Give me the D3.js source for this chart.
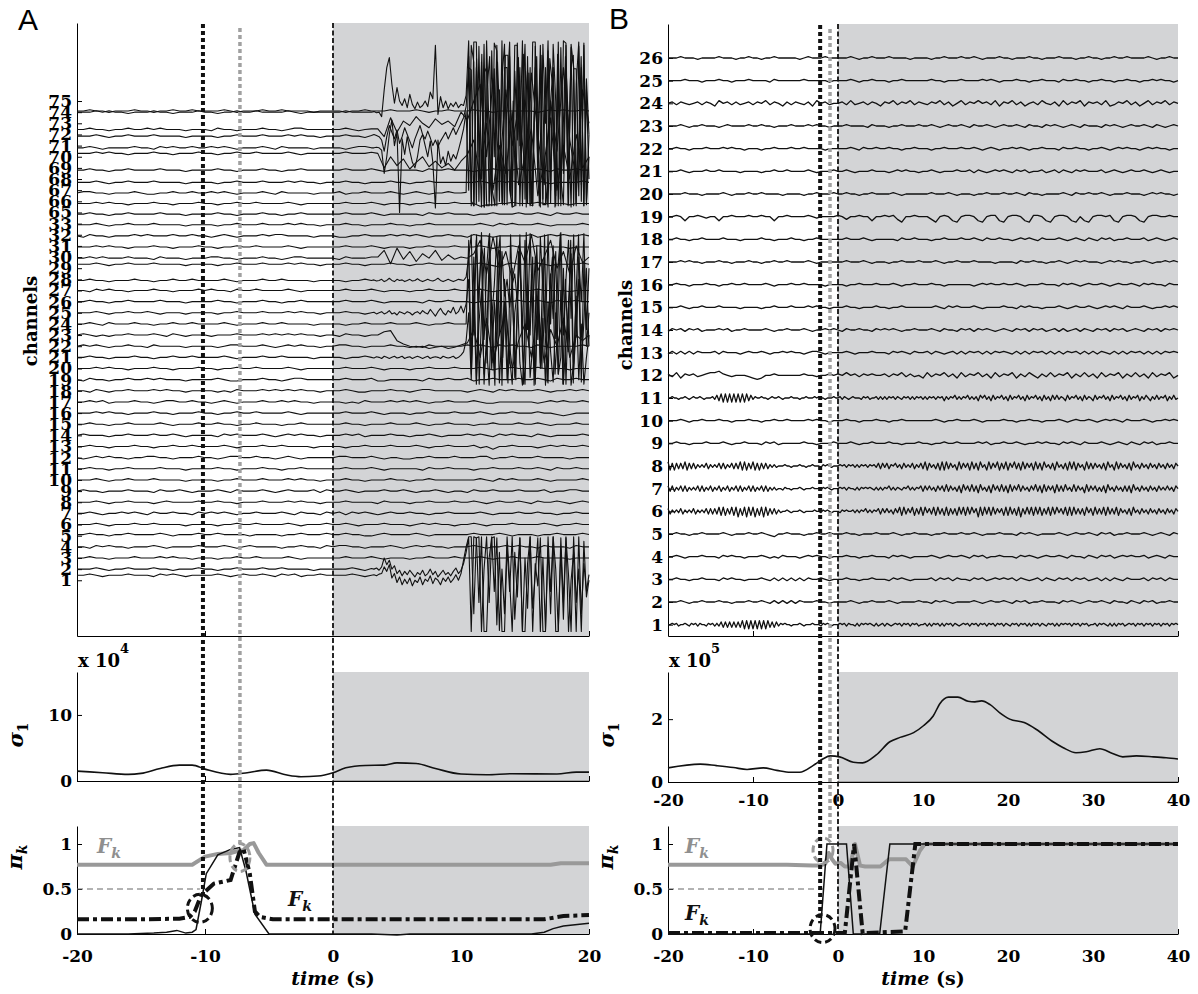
<!DOCTYPE html>
<html>
<head>
<meta charset="utf-8">
<script src="https://cdn.jsdelivr.net/npm/d3@7"></script>
<style>
  body { margin: 0; background: #fff; }
  svg { display: block; }
</style>
</head>
<body>
<svg id="fig" width="1198" height="994"></svg>
<script>
// ---------------- Panel A : intracranial channels (t = -20 .. 20 s) ----------------
const labelsA = [1,2,3,4,5,6,7,8,9,10,11,12,13,14,15,16,17,18,19,20,21,22,23,24,25,26,27,28,29,30,31,32,33,
                 65,66,67,68,69,70,71,72,73,74,75];
// mean level of each trace relative to its tick (channel units)
const offsetA = [0.45,0,0,0,0.1,0,0,0,0,0, 0,0,0,0,0,0,0,0,0,0, 0,0,0,0,0,0,0,-0.1,0.35,-0.1,
                 -0.1,-0.1,-0.1, -0.15,-0.2,-0.25,-0.3,-0.2,0.3,-0.2,-0.15,-0.55,0,-0.9];
// background activity, one digit per 0.5 s, 5 = trace level
const waveA = [
 "5565455565 5546565455 5565456556 5465645565 5556545565 5565545556 5545565556 5565455565 5",
 "5556545565 5565545556 5545565556 5565555455 5556546556 5565545565 5545565556 5565456545 5",
 "5565545556 5556565545 5545565565 5556545555 5565556545 5545565556 5556545565 5565555455 5",
 "5546565545 5565455556 5556545655 5545565546 5665545556 5456565545 5565455656 5546555465 5",
 "5565545565 5556545556 5565555455 5545565556 5565544565 5556545555 5565556545 5545565556 5",
 "5556545556 5565555455 5545565565 5556545556 5565455565 5545656554 5565455565 5556545565 5",
 "5565455656 5465565546 5656545565 5565465546 5646565456 5565545565 5556545556 5565545565 5",
 "5556545565 5545655556 5565545556 5556565545 5565555465 5545565556 5565456556 5465565456 5",
 "5655455565 5546556545 5565465556 5456555646 5565455565 5654556545 5465565556 5556455665 5",
 "5556545565 5565555455 5545565556 5556565545 5565545556 5545565555 5556546565 5565455556 5",
 "5565545565 5556555455 5565545556 5545565555 5565556545 5555465565 5545565556 5565465565 5",
 "5456565545 5665545556 5545665565 5456545555 5665556545 5445565556 5556645565 5565555455 5",
 "5565545556 5545565565 5556545556 5565555455 5545565556 5556545565 5564535565 5545656556 5",
 "5655545565 5565565455 5546565556 5456565545 5565645556 5545565455 5656546565 5465455556 5",
 "5565545565 5556545556 5565545565 5545565555 5565545556 5556545565 5545565556 5565455565 5",
 "5556565545 5565545556 5545565565 5556545555 5565556545 5545565556 5556545565 5565543455 5",
 "5565645556 5545665565 5456545556 5565655455 5545465556 5656545565 5565445555 5545656556 5",
 "5546545565 5565655455 5545465556 5656565545 5565445556 5545665555 5456546565 5565455656 5",
 "5465545565 5656555455 5565445556 5545665555 5565556445 5555465565 5645565556 5565465565 5",
 "5556565545 5565545556 5545565565 5556545555 5565556545 5545565556 5556545565 5565555455 5",
 "5565545556 5545565565 5556545556 5565555455 5545565556 5556545565 5565545555 5545656556 5",
 "5656545565 5465555455 5545665556 5456565545 5665545556 5545465555 5656546565 5465455556 5",
 "5654545565 5565465455 5455565556 5656565545 5465545556 5645565555 5556546565 5565455556 5",
 "5565465556 5545565565 5556545556 5565555455 5545565556 5556545565 5565545555 5545656556 5",
 "5556545565 5654555455 5545565556 5556565545 5565545556 5545565555 5556546565 5565455556 5",
 "5565545565 5556555455 5565545556 5545565555 5565556545 5555465565 5545565556 5565465565 5",
 "5546565545 5565545556 5655465565 5556545555 5565556545 5545565556 5556545565 5565555455 5",
 "5565545556 5545565565 5556545556 5565555455 5545565556 5556545565 5565545555 5545656556 5",
 "5556545565 5565555455 5545565556 5556565545 5565545556 5545565555 5556543565 5565455556 5",
 "5565655565 5546555455 5665545556 5545665555 5465556545 5555465565 5545565556 5565465565 5",
 "5556565545 5565545556 5545565565 5556545555 5565556545 5545565556 5556545565 5565555455 5",
 "5465545556 5655565565 5456545556 5665555455 5445565556 5656545565 5465545555 5645656556 5",
 "5556545565 5565555455 5545565556 5556565545 5565545556 5545565555 5556546565 5565455556 5",
 "5565545565 5556555455 5565545556 5545565555 5565556545 5555465565 5545565556 5565465565 5",
 "5556565545 5565545556 5545565565 5556545555 5565556545 5545565556 5553445565 5565555455 5",
 "5665545556 5445565565 5656545556 5465555455 5645565556 5456545565 5665545555 5545656556 5",
 "5556545565 5565555455 5545565556 5556565545 5565545556 5545565555 5556546565 5565455556 5",
 "5565545565 5556555455 5565545556 5545565555 5565556545 5555465565 5545565556 5565465565 5",
 "5556565545 5565545556 5545565565 5556545555 5565556545 5545565556 5556545565 5565555455 5",
 "5565455556 5546565565 5656545556 5465555455 5545665556 5556545565 5565445555 5545656556 5",
 "5556545565 5565555455 5545565556 5556565545 5565545556 5545565555 5556546565 5565455556 5",
 "5565545565 5656555455 5465545556 5545665555 5565456545 5655465565 5545565556 5565465565 5",
 "5556565545 5565545556 5545565565 5556545555 5565556545 5545565556 5556545565 5565555455 5",
 "5565545556 5545565565 5556545556 5565555455 5545565556 5556545565 5565545555 5545656556 5"
];

// seizure activity, t = 3 .. 20 s every 0.2 s, in channel units
const burst74 = [42,42.05,41.95,42,41.6,44.0,46.0,46.9,44.5,42.8,44.2,43.0,42.6,43.2,42.4,43.6,42.7,42.3,42.9,42.4,
  42.6,43.0,42.5,43.8,43.2,48.0,41.8,43.4,42.4,43.0,42.3,42.8,42.5,42.9,42.4,42.7,42.6,43.5,48.4,
  33.6,48.3,48.3,34.0,46.5,33.5,48.4,40.0,33.6,48.2,47.5,35.0,48.4,33.7,44.0,48.3,33.5,33.6,48.2,39.0,
  48.4,34.2,47.0,33.6,48.3,48.3,36.0,33.5,48.1,41.0,48.4,33.8,46.0,34.5,48.3,33.6,48.4,48.2,35.5,47.8,
  33.6,44.5,48.3,34.0,48.2,33.7,40.0];
const burst71 = [38.8,38.8,38.85,38.8,38.6,36.5,38.0,40.0,41.3,39.0,40.2,33.0,39.6,38.2,39.8,38.5,37.5,37.0,38.0,39.5,
  40.0,39.0,38.0,39.4,37.5,33.4,39.5,37.4,38.0,37.2,38.5,37.6,38.2,37.8,38.6,39.5,40.5,42.0,35.0,
  48.0,46.5,33.8,47.9,36.0,48.1,33.6,33.6,47.5,38.0,48.0,34.0,45.0,48.1,33.7,47.0,34.5,48.0,48.0,33.6,
  42.0,48.1,33.8,46.0,33.6,47.9,38.5,48.0,33.7,33.7,47.5,35.0,48.1,43.0,33.6,47.8,36.5,48.0,33.8,48.1,
  46.0,33.6,47.9,35.5,48.0,34.0,38.0];
const burst72 = [39.9,40.0,39.9,39.8,39.5,38.5,39.8,40.8,40.2,39.6,40.4,39.2,39.8,40.6,40.0,39.4,38.8,39.6,40.2,40.8,
  40.0,39.6,40.3,39.7,39.0,39.5,38.9,39.4,39.8,40.2,39.6,40.1,40.6,40.0,40.5,41.0,41.5,42.5,46.0,
  45.8,33.6,46.0,40.0,33.5,45.5,46.0,34.0,37.0,45.9,33.6,44.0,33.8,46.0,46.0,35.0,33.5,45.7,39.5,46.0,
  33.6,42.0,45.8,33.7,33.6,46.0,37.5,45.9,34.2,46.0,33.5,43.0,46.0,33.6,45.6,36.0,33.7,46.0,41.0,33.5,
  45.9,45.9,34.5,46.0,33.6,44.0,36.0];
const burst28 = [26.9,26.95,26.85,26.9,27.0,26.8,26.9,27.1,26.9,26.8,27.0,26.9,26.95,26.8,26.9,27.0,26.85,26.9,27.05,26.9,
  26.8,26.9,27.0,26.9,26.85,26.95,27.1,26.9,26.8,26.9,27.0,26.9,26.8,26.9,27.0,26.95,26.9,27.2,29.0,
  31.0,22.0,30.5,25.0,31.2,21.6,28.0,31.0,23.5,26.5,30.8,22.0,29.5,25.5,27.0,24.5,26.5,27.5,25.0,31.0,
  21.8,30.5,22.5,31.1,24.0,29.0,21.6,30.8,26.0,22.2,31.0,23.0,30.0,21.7,28.5,31.2,22.0,27.0,30.5,23.5,
  31.0,21.8,29.0,25.0,31.1,22.5,28.0];
const burst25 = [24.0,24.05,23.9,24.0,24.1,23.9,24.0,24.2,23.9,24.0,23.8,24.1,24.0,23.9,24.1,24.0,23.8,24.0,24.1,23.9,
  24.2,24.0,23.9,24.3,24.0,23.7,24.1,24.4,24.0,23.8,24.2,24.0,24.5,23.9,24.1,24.6,24.0,24.8,27.0,
  20.0,29.0,18.0,26.0,29.5,17.6,22.0,28.5,19.0,25.0,21.0,29.6,17.5,27.0,23.0,19.5,28.0,18.2,24.5,29.4,
  20.5,17.6,26.5,22.0,29.0,18.0,25.5,19.5,28.8,21.5,17.7,27.5,23.5,29.5,18.5,20.0,28.0,17.6,25.0,29.3,
  19.0,22.5,27.0,17.8,28.5,21.0,24.0];
const burst21 = [20.0,19.95,20.05,20.0,19.9,20.1,20.0,19.9,20.0,20.1,19.95,20.0,20.1,19.9,20.0,20.05,19.9,20.0,20.1,20.0,
  19.9,20.0,20.1,19.9,20.0,20.05,20.0,19.9,20.1,20.0,19.95,20.0,20.1,19.9,20.0,20.2,20.5,21.5,24.0,
  18.0,25.5,17.6,23.0,26.0,18.5,21.0,17.5,24.5,19.0,26.0,17.7,22.5,25.0,18.0,20.0,17.6,24.0,26.0,19.5,
  17.5,22.0,25.5,18.2,21.0,17.6,26.0,19.0,23.5,17.5,25.0,20.5,17.8,24.0,18.5,26.0,17.6,21.5,24.5,17.5,
  19.5,25.5,18.0,23.0,17.6,20.0,22.0];
const burst2 = [1.05,1.0,1.1,0.9,1.2,2.0,1.4,1.8,1.0,1.3,0.6,0.9,0.4,0.8,0.5,0.9,0.6,0.3,0.7,0.5,
  0.9,0.4,0.6,1.0,0.5,0.8,0.3,0.6,0.9,0.5,0.7,0.4,0.8,1.1,0.6,0.9,1.5,2.5,3.8,
  -4.6,3.9,3.8,-2.0,3.9,-4.6,-4.6,2.0,3.9,-1.0,3.8,-4.5,1.0,-3.0,3.9,0.0,-4.6,2.5,-1.5,3.8,
  -4.6,-4.6,1.5,3.9,-2.5,0.5,3.8,-4.6,2.0,-4.5,3.9,-1.0,3.9,-4.6,-4.6,2.8,-3.5,3.8,0.5,-4.6,
  3.9,-2.0,1.0,-4.6,3.5,-1.5,0.0];
const burst1 = [0.45,0.5,0.4,0.55,0.6,1.2,0.8,1.4,0.2,0.6,-0.2,0.3,-0.4,0.1,-0.3,0.2,-0.5,0.0,-0.2,0.3,
  -0.4,0.1,-0.1,0.4,-0.3,0.2,0.0,-0.4,0.2,-0.1,0.3,-0.2,0.1,0.5,0.0,0.6,1.8,3.0,3.9,
  3.9,-3.0,3.8,3.9,-4.6,1.0,3.9,-2.0,3.8,3.9,-4.0,2.5,-4.6,-4.6,3.0,-1.0,3.9,-3.5,0.5,3.8,
  -4.6,2.0,-2.5,3.9,-4.6,1.5,-0.5,3.8,-4.6,-4.6,3.0,-3.0,3.9,1.0,-4.5,3.8,-2.0,3.9,-4.6,0.0,
  2.5,-4.6,3.9,-3.0,1.5,-1.0,0.5];
// late-joining channels, t = 10.4 .. 20 s
const burst67 = [34.8,47.0,34.0,33.6,46.8,38.0,47.2,33.5,44.0,47.0,35.0,33.6,46.5,40.5,33.7,47.1,47.1,34.5,43.0,33.6,
  46.9,37.0,47.2,33.5,45.5,33.8,41.0,47.0,33.6,47.1,36.5,33.7,46.8,44.5,33.5,47.2,34.2,39.5,47.0,33.6,
  46.0,47.1,33.8,38.5,47.0,33.6,45.0,40.0];
const burst24 = [23.0,30.5,18.5,26.0,31.0,17.6,24.5,29.8,19.5,31.1,22.0,17.5,28.5,30.9,20.0,25.0,17.7,31.0,23.5,18.0,
  29.5,26.5,17.6,31.2,21.0,27.5,17.5,30.0,24.0,19.0,31.0,17.8,26.0,29.0,18.5,22.5,31.1,17.6,27.0,20.5,
  30.5,17.7,25.5,31.0,19.0,23.0,28.0,21.0];
// slower post-onset changes, t = 3 .. 20 s every 0.5 s
const shift73 = [40.5,40.5,39.8,41.5,40.2,41.2,40.8,41.6,41.0,40.6,41.4,40.9,41.2,40.7,42.0,41.3,43.0,44.5,38.0,45.0,
  36.5,44.0,39.0,42.5,37.0,45.5,40.0,35.5,43.0,38.5,46.0,39.5,36.0,44.0,41.0];
const shift70 = [38.4,38.3,37.0,38.0,37.2,37.8,36.9,37.5,38.0,37.1,37.6,37.0,37.4,36.8,37.6,38.2,39.5,36.0,41.0,35.0,
  39.0,36.5,42.0,35.5,38.0,40.5,34.5,37.5,41.5,35.0,39.0,36.0,40.0,37.0,38.0];
const shift30 = [29.0,29.0,29.6,28.4,29.8,28.8,29.5,28.6,29.3,28.9,29.6,28.7,29.2,28.8,29.0,28.9,29.3,30.5,27.5,30.8,
  28.0,29.5,27.0,30.0,28.5,31.0,27.8,29.0,30.5,28.0,29.5,27.5,30.0,28.5,29.0];
const shift23 = [22.0,22.0,22.3,22.4,21.5,21.2,21.0,20.9,21.0,20.8,20.9,21.0,20.8,20.9,21.1,21.3,22.5,20.0,23.5,19.5,
  22.0,24.0,19.0,21.5,23.0,20.0,24.5,19.5,22.5,21.0,23.5,20.0,22.0,21.5,22.0];

const burstsA = [
  {ch: 74, t0: 3, t1: 20, v: burst74}, {ch: 71, t0: 3, t1: 20, v: burst71},
  {ch: 72, t0: 3, t1: 20, v: burst72}, {ch: 73, t0: 3, t1: 20, v: shift73},
  {ch: 70, t0: 3, t1: 20, v: shift70}, {ch: 67, t0: 10.4, t1: 20, v: burst67},
  {ch: 30, t0: 3, t1: 20, v: shift30}, {ch: 28, t0: 3, t1: 20, v: burst28},
  {ch: 25, t0: 3, t1: 20, v: burst25}, {ch: 24, t0: 10.4, t1: 20, v: burst24},
  {ch: 23, t0: 3, t1: 20, v: shift23}, {ch: 21, t0: 3, t1: 20, v: burst21},
  {ch: 2, t0: 3, t1: 20, v: burst2},   {ch: 1, t0: 3, t1: 20, v: burst1}
];

// first singular value (x 10^4)
const tSigA = [-20,-18,-16,-15,-13.5,-12,-11,-10,-8,-6.7,-5.2,-3.6,-2.5,-1.2,0,1,2.5,4,5,6.5,8,10,12,14,17.5,19,20];
const sigA  = [1.5,1.25,1.0,1.15,1.9,2.4,2.4,1.8,1.0,1.25,1.65,0.9,0.65,0.75,1.25,2.0,2.35,2.4,2.75,2.65,1.9,1.05,0.95,1.1,1.05,1.35,1.35];

// state probabilities
const tGrayA = [-20,-11,-10,-9,-8,-7.5,-7,-6.5,-6.2,-5.8,-5.2,17,17.8,20];
const grayA  = [0.77,0.77,0.86,0.89,0.9,0.92,0.93,1.0,1.01,0.9,0.77,0.77,0.785,0.785];
const tSolidA = [-20,-16,-14,-13,-12.2,-11.5,-11,-10.7,-10.3,-9.9,-9,-8,-7.3,-6.8,-6.1,-5.0,3,5,6,15.5,16.5,17.2,18,20];
const solidA  = [0,0,0.01,0.02,0.04,0.01,0.02,0.05,0.35,0.67,0.88,0.94,0.96,0.7,0.22,0,0,-0.01,0,0,0.02,0.06,0.09,0.12];
const tDashA = [-20,-15,-12,-11.2,-10.8,-10.3,-9.3,-8,-7.3,-7.0,-6.5,-6.1,-5.7,-4.7,16.5,18,20];
const dashA  = [0.163,0.163,0.17,0.19,0.25,0.43,0.56,0.6,0.91,0.95,0.67,0.25,0.19,0.163,0.163,0.2,0.21];

// ---------------- Panel B : scalp channels (t = -20 .. 40 s) ----------------
const labelsB = d3.range(1, 27);
const waveB = [
 // 1
 "5565645565 4656465546 5646473737 3737382828 2828282837 3746565545 5565455565 5546565455 5656465546 4656565464 5646545656 4656465645 5646465646 4656465456 5646564656 4656465646 5465646564 6465646546 5646465656 4656465645 5646565464 6465645656 4656465646 5646564656 5",
 // 2
 "5556545565 5565545556 5565464646 4655565545 5556545565 5565455556 5546565455 5565456556 5465645565 5546565456 5565465546 5465645565 5",
 // 3
 "5565545565 5546565545 5565464646 4646556545 5565545565 5546565455 5564656465 5465645656 5646545646 5465646564 5646465465 5564656465 5",
 // 4
 "5565455565 5546565545 5565454655 5456565545 5565545565 5546565455 5565456556 5465645565 5546565456 5565465546 5465645656 5564565465 5",
 // 5
 "5565545565 5556545556 5565435565 5545565565 5565545556 5556545565 5545565556 5565455565 5546565455 5565456556 5465645565 5565456546 5",
 // 6
 "7364647364 6473646473 7373828273 8281728182 8172818273 7364556545 5565455556 5546565455 5465655646 4657464657 3747463748 2837482738 2847382837 2827372838 2838471828 3828374728 2837281738 3828382738 2838473828 2837372847 2837382837 3827463728 4637463746 3746374637 5",
 // 7
 "7373647373 6464737364 7364736473 6473736473 7364737364 6455465545 5565455565 5546565455 5656465546 4656565464 6465746465 4657464657 3747463747 3837463728 4738372846 3728473837 2837483746 3748372837 4728373846 3837462837 4736372846 3746373728 4637463746 3746474637 5",
 // 8
 "8272737382 7373646473 6464737364 7373828273 8272737364 6455565545 5565545565 5546565455 5656465646 4656465647 3747365746 3746473647 3827463728 2837462837 4728372846 2837482738 2748372837 4728372846 3728463728 3827462837 3746372846 2837463728 4637463746 3746374637 5",
 // 9
 "5565545556 5556545565 5546564555 5565545556 5556545565 5565545556 5545565565 5556564556 5565455656 5546565465 5565456546 5465645565 5",
 // 10
 "5556545565 5565545556 5545565565 5556565545 5565545556 5545565555 5556545565 5565455556 5545565545 5565456556 5456565465 5565455656 5",
 // 11
 "5565545565 4565565455 5647382828 2828282837 4655655456 5565455565 5545565556 5655455565 5646545655 5465645564 6464656465 4656464656 4646564656 3646574646 5746463757 4637465746 3746574637 4657463746 3747465374 6574637465 3746574637 4657463746 5736475364 7465736474 5",
 // 12
 "6473656456 7786545554 3235565555 5565545565 6575646565 5646574645 3746574637 4657463746 5736475364 7465736474 6374657364 7463746573 5",
 // 13
 "4646464655 5646555456 5565455656 5545665455 5565455565 5546565465 5646545646 4656464656 5464646564 6464656464 6465464646 5646464656 5",
 // 14
 "4656465645 5565645565 5556545565 5565455656 5465565546 5656545565 5565465546 5646565456 5465646564 5646456465 4656465645 6546564656 5",
 // 15
 "5556545565 5565555455 5545565556 5556565545 5565545556 5545565555 5556546565 5565455556 5546565545 5565456556 5456565465 5565455656 5",
 // 16
 "5565545556 5545565565 5556545556 5565555455 5545565556 5556545565 5565545555 5545656556 5565455565 5546565456 5565456556 5465655465 5",
 // 17
 "5556565545 5565545556 5545565565 5556545555 5565556545 5545565556 5556545565 5565555455 5546556554 5565456565 5545656554 5565455656 5",
 // 18
 "5565545565 5556555455 5565545556 5545565555 5565556545 5555465565 5545565556 5565465565 5456565465 5565456546 5465645565 5564565456 5",
 // 19
 "5565255654 5525565556 5565525565 5556545555 6535565525 5656315565 5531565215 6652156621 5665216652 1566521521 5665621566 5215665565 5",
 // 20
 "5555655545 5556545556 5565555455 5545565556 5565545565 5556545555 5565556545 5545565556 5565465545 5556546556 5565455565 5545656554 5",
 // 21
 "5556545556 5565555455 5545565565 5556545556 5565455565 5545656554 5565455565 5646545656 5465645564 5646546565 5564565456 5565456545 5",
 // 22
 "5565545556 5556565545 5545565556 5565555455 5556546556 5565545565 5545565556 5565456545 5656545565 5546556554 5565456565 5456565545 5",
 // 23
 "5556545565 5545655556 5565545556 5556565545 5565555465 5545565556 5565456556 5465565456 5565465546 5654565465 5546565456 5565465456 5",
 // 24
 "5646545646 5375646456 4657465364 6546375645 5647456465 3657465746 5465746357 4657564736 5746356475 4637465736 5647346574 6357465746 5",
 // 25
 "5555655545 5565545556 5555465555 5565555545 5556545565 5545565555 5565545556 5555656545 5565545565 5546556554 5565545565 5455656554 5",
 // 26
 "5556555455 5565554556 5545565555 5456555655 5556545565 5565555455 5545565556 5565455565 5455565545 5565554556 5545565565 5556545565 5"
];

// first singular value (x 10^5)
const tSigB = [-20,-16.2,-14.3,-12.3,-10.7,-8.8,-7.2,-5.6,-4.5,-2.9,-1.8,-0.9,0.2,1.8,2.9,4.5,6.1,7.3,8.9,10.05,11.2,12,13,14.1,15.3,16.1,16.9,17.9,19,20.2,21.9,23.3,25.3,26.5,28,29.2,30.8,32.3,33.5,35.1,37.1,38.6,40];
const sigB  = [0.45,0.57,0.52,0.46,0.4,0.45,0.37,0.31,0.31,0.53,0.73,0.83,0.8,0.63,0.61,0.86,1.28,1.42,1.57,1.79,2.1,2.5,2.7,2.7,2.57,2.55,2.58,2.46,2.21,2.0,1.89,1.68,1.28,1.09,0.93,0.96,1.06,0.91,0.8,0.83,0.8,0.77,0.73];

const tGrayB = [-20,-6,-3,-2.2,-1.5,-1.1,-0.7,-0.3,0.3,0.8,1.4,2.0,2.6,3.2,5.0,6.0,8.0,8.8,9.6,10.2,40];
const grayB  = [0.77,0.77,0.76,0.76,0.78,0.9,0.83,0.78,0.79,0.75,0.75,1.0,0.76,0.75,0.75,0.83,0.83,0.75,0.92,1.0,1.0];
const tSolidB = [-20,-2.1,-1.3,1.0,1.8,2.2,4.9,6.1,40];
const solidB  = [0,0,1,1,0,0,0,1,1];
const tDashB = [-20,-1.5,0.8,1.9,2.9,7.9,9.1,40];
const dashB  = [0.01,0.01,0.01,1.0,0.01,0.03,1.0,1.0];

// onset markers and highlighted crossings
const markA = {first: -10.16, second: -7.27, onset: 0};
const markB = {first: -2.1, second: -0.94, onset: 0};
const ringA = [{t: -10.4, p: 0.285, c: "#111", rx: 12.5, ry: 14}, {t: -7.27, p: 0.85, c: "#999", rx: 10, ry: 14}];
const ringB = [{t: -1.82, p: 0.06, c: "#111", rx: 12.5, ry: 14}, {t: -1.76, p: 0.93, c: "#999", rx: 10, ry: 12.5}];

const ticksA = [-20, -10, 0, 10, 20];
const ticksB = [-20, -10, 0, 10, 20, 30, 40];

// ---------------- drawing ----------------
const svg = d3.select("#fig");
const SERIF = "'DejaVu Serif', 'Liberation Serif', serif";
const SHADE = "#d3d4d6";

const digits = s => s.replace(/\s+/g, "").split("").map(Number);
const spread = (vals, t0, t1) => vals.map((v, i) => [t0 + (t1 - t0) * i / (vals.length - 1), v]);

function styleAxis(g) {
  g.attr("font-family", SERIF).attr("font-size", 17).attr("font-weight", "bold");
  g.selectAll("line").attr("stroke", "#000");
  g.select(".domain").attr("stroke", "#000");
  g.selectAll("text").attr("fill", "#000");
}
function yAxis(parent, scale, x, values, fmt) {
  const g = parent.append("g").attr("transform", `translate(${x},0)`)
    .call(d3.axisLeft(scale).tickValues(values).tickFormat(fmt).tickSizeInner(-5).tickSizeOuter(0).tickPadding(5));
  styleAxis(g);
  return g;
}
function xAxis(parent, scale, y, values, labelled, pad) {
  const g = parent.append("g").attr("transform", `translate(0,${y})`)
    .call(d3.axisBottom(scale).tickValues(values).tickFormat(labelled ? d => String(d) : () => "")
      .tickSizeInner(-5).tickSizeOuter(0).tickPadding(pad || 12));
  styleAxis(g);
  return g;
}
function shade(parent, x, y, t1) {
  const [y0, y1] = y.range();
  parent.append("rect").attr("x", x(0)).attr("y", y1).attr("width", x(t1) - x(0)).attr("height", y0 - y1)
    .attr("fill", SHADE);
}
function rotLabel(x, y, main, sub, italicSub) {
  const t = svg.append("text").attr("transform", `translate(${x},${y}) rotate(-90)`)
    .attr("text-anchor", "middle").attr("font-family", SERIF).attr("font-weight", "bold");
  t.append("tspan").attr("font-style", "italic").attr("font-size", 21).text(main);
  t.append("tspan").attr("font-size", 14).attr("dy", 5).attr("font-style", italicSub ? "italic" : "normal").text(sub);
}
function fLabel(x, y, color) {
  const t = svg.append("text").attr("x", x).attr("y", y).attr("fill", color)
    .attr("font-family", SERIF).attr("font-weight", "bold").attr("font-style", "italic");
  t.append("tspan").attr("font-size", 20).text("F");
  t.append("tspan").attr("font-size", 14).attr("dy", 5).text("k");
}
function sciLabel(x, y, exp) {
  const t = svg.append("text").attr("x", x).attr("y", y).attr("font-family", SERIF).attr("font-weight", "bold");
  t.append("tspan").attr("font-size", 18).text("x 10");
  t.append("tspan").attr("font-size", 13).attr("dy", -14).text(exp);
}
function timeLabel(x, y) {
  const t = svg.append("text").attr("x", x).attr("y", y).attr("text-anchor", "middle")
    .attr("font-family", SERIF).attr("font-weight", "bold").attr("font-size", 19);
  t.append("tspan").attr("font-style", "italic").text("time");
  t.append("tspan").text(" (s)");
}

function drawPanel(cfg) {
  const {x, yTr, ySig, yPi, tEnd, ticks} = cfg;
  const g = svg.append("g");

  // channel traces
  yAxis(g, yTr, x(-20), cfg.tickIdx, cfg.tickFmt);
  xAxis(g, x, yTr.range()[0], ticks, false);
  shade(g, x, yTr, tEnd);
  const lineTr = d3.line().x(d => x(d[0])).y(d => yTr(d[1]));
  cfg.traces.forEach(pts => {
    g.append("path").attr("d", lineTr(pts)).attr("fill", "none")
      .attr("stroke", "#111").attr("stroke-width", cfg.traceWidth).attr("stroke-linejoin", "round");
  });

  // singular value
  yAxis(g, ySig, x(-20), cfg.sigTicks, d => String(d));
  xAxis(g, x, ySig.range()[0], ticks, cfg.sigLabels, 12);
  shade(g, x, ySig, tEnd);
  g.append("line").attr("x1", x(0)).attr("x2", x(tEnd)).attr("y1", ySig(0) - 0.5).attr("y2", ySig(0) - 0.5)
    .attr("stroke", "#a4a4a4");
  const lineSig = d3.line().x(d => x(d[0])).y(d => ySig(d[1])).curve(d3.curveMonotoneX);
  g.append("path").attr("d", lineSig(d3.zip(cfg.tSig, cfg.sig))).attr("fill", "none")
    .attr("stroke", "#111").attr("stroke-width", 1.6);

  // probabilities
  yAxis(g, yPi, x(-20), [0, 0.5, 1], d => String(d));
  xAxis(g, x, yPi.range()[0], ticks, true, 16);
  shade(g, x, yPi, tEnd);
  const linePi = d3.line().x(d => x(d[0])).y(d => yPi(d[1]));
  g.append("line").attr("x1", x(-20)).attr("x2", cfg.halfEnd).attr("y1", yPi(0.5)).attr("y2", yPi(0.5))
    .attr("stroke", "#666").attr("stroke-width", 1).attr("stroke-dasharray", "6,4");
  g.append("path").attr("d", linePi(d3.zip(cfg.tGray, cfg.gray))).attr("fill", "none")
    .attr("stroke", "#999").attr("stroke-width", 4).attr("stroke-linejoin", "round");
  g.append("path").attr("d", linePi(d3.zip(cfg.tSolid, cfg.solid))).attr("fill", "none")
    .attr("stroke", "#111").attr("stroke-width", 1.5);
  g.append("path").attr("d", linePi(d3.zip(cfg.tDash, cfg.dash))).attr("fill", "none")
    .attr("stroke", "#111").attr("stroke-width", 4).attr("stroke-dasharray", "12,4,4,4");
  cfg.rings.forEach(r => {
    g.append("ellipse").attr("cx", x(r.t)).attr("cy", yPi(r.p)).attr("rx", r.rx).attr("ry", r.ry)
      .attr("fill", "none").attr("stroke", r.c).attr("stroke-width", 3).attr("stroke-dasharray", "7,4");
  });

  // event markers across all three plots
  const top = yTr.range()[1];
  const m = cfg.marks;
  g.append("line").attr("x1", x(m.onset)).attr("x2", x(m.onset)).attr("y1", top).attr("y2", yPi(0))
    .attr("stroke", "#111").attr("stroke-width", 1.8).attr("stroke-dasharray", "5,2.5");
  g.append("line").attr("x1", x(m.first)).attr("x2", x(m.first)).attr("y1", top + 1).attr("y2", yPi(cfg.firstEnd))
    .attr("stroke", "#111").attr("stroke-width", 4).attr("stroke-dasharray", "4,3");
  g.append("line").attr("x1", x(m.second)).attr("x2", x(m.second)).attr("y1", top + 5).attr("y2", yPi(cfg.secondEnd))
    .attr("stroke", "#a0a0a0").attr("stroke-width", 3.5).attr("stroke-dasharray", "4,3");
}

// ---- Panel A ----
const xA = d3.scaleLinear([-20, 20], [77, 589]);
const yTrA = d3.scaleLinear([-5, 50], [636, 23]);
const tracesA = labelsA.map((ch, i) => {
  const base = i + offsetA[i];
  let pts = spread(digits(waveA[i]).map(d => base + (d - 5) * 0.12), -20, 20);
  const b = burstsA.find(e => e.ch === ch);
  if (b) pts = pts.filter(p => p[0] < b.t0).concat(spread(b.v, b.t0, b.t1));
  return pts;
});
drawPanel({
  x: xA, yTr: yTrA, ySig: d3.scaleLinear([0, 16.5], [781, 672]), yPi: d3.scaleLinear([0, 1.2], [934, 826]),
  tEnd: 20, ticks: ticksA, traces: tracesA, traceWidth: 1.1,
  tickIdx: d3.range(labelsA.length), tickFmt: i => String(labelsA[i]),
  sigTicks: [0, 10], sigLabels: false, tSig: tSigA, sig: sigA,
  tGray: tGrayA, gray: grayA, tSolid: tSolidA, solid: solidA, tDash: tDashA, dash: dashA,
  halfEnd: xA(-10.4), rings: ringA, marks: markA, firstEnd: 0.42, secondEnd: 1.0
});

// ---- Panel B ----
const xB = d3.scaleLinear([-20, 40], [668, 1178]);
const yTrB = d3.scaleLinear([0.5, 27.5], [636, 24]);
const tracesB = labelsB.map((ch, i) => spread(digits(waveB[i]).map(d => ch + (d - 5) * 0.06), -20, 40));
drawPanel({
  x: xB, yTr: yTrB, ySig: d3.scaleLinear([0, 3.5], [782, 672]), yPi: d3.scaleLinear([0, 1.2], [934, 826]),
  tEnd: 40, ticks: ticksB, traces: tracesB, traceWidth: 1.3,
  tickIdx: labelsB, tickFmt: d => String(d),
  sigTicks: [0, 2], sigLabels: true, tSig: tSigB, sig: sigB,
  tGray: tGrayB, gray: grayB, tSolid: tSolidB, solid: solidB, tDash: tDashB, dash: dashB,
  halfEnd: xB(-1.3), rings: ringB, marks: markB, firstEnd: 0.12, secondEnd: 1.03
});

// ---- text ----
svg.append("text").attr("x", 18).attr("y", 30).attr("font-family", "'Liberation Sans', Arial, sans-serif")
  .attr("font-size", 30).text("A");
svg.append("text").attr("x", 609).attr("y", 29).attr("font-family", "'Liberation Sans', Arial, sans-serif")
  .attr("font-size", 30).text("B");
[[37, 321], [632, 325]].forEach(([x, y]) => {
  svg.append("text").attr("transform", `translate(${x},${y}) rotate(-90)`).attr("text-anchor", "middle")
    .attr("font-family", SERIF).attr("font-weight", "bold").attr("font-size", 18).text("channels");
});
rotLabel(23, 735, "σ", "1", false);
rotLabel(614, 735, "σ", "1", false);
rotLabel(22, 857, "π", "k", true);
rotLabel(613, 857, "π", "k", true);
sciLabel(78, 667, "4");
sciLabel(669, 667, "5");
fLabel(97, 853, "#8f8f8f");
fLabel(288, 906, "#111");
fLabel(685, 853, "#8f8f8f");
fLabel(685, 920, "#111");
timeLabel(333, 985);
timeLabel(923, 985);
</script>
</body>
</html>
